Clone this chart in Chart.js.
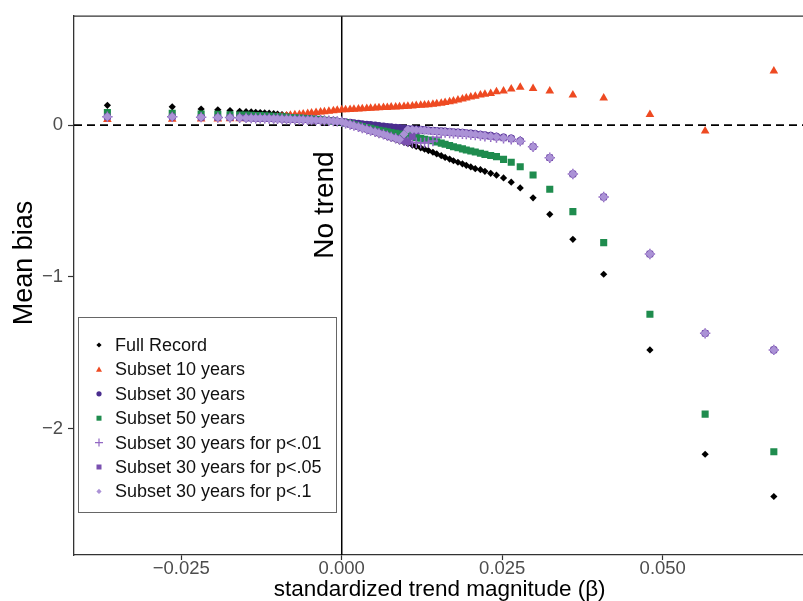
<!DOCTYPE html>
<html>
<head>
<meta charset="utf-8">
<title>Mean bias vs standardized trend magnitude</title>
<script src="https://cdn.jsdelivr.net/npm/chart.js@4.4.1/dist/chart.umd.min.js"></script>
<style>
  html, body { margin: 0; padding: 0; background: #fff; overflow: hidden; }
  #wrap { position: relative; width: 812px; height: 601px; }
</style>
</head>
<body>
<div id="wrap"><canvas id="biasChart"></canvas></div>
<script>
// x values (standardized trend magnitude) shared by all series
const betas = [
    -0.0365, -0.0264, -0.0219, -0.0193, -0.0174, -0.0159, -0.0149, -0.0141, -0.0134, -0.0127, -0.0120, -0.0113,
    -0.0106, -0.0100, -0.0093, -0.0086, -0.0080, -0.0073, -0.0066, -0.0060, -0.0053, -0.0047, -0.0040, -0.0033,
    -0.0027, -0.0020, -0.0013, -0.0007, 0.0000,
    0.0006, 0.0013, 0.0019, 0.0026, 0.0032, 0.0039, 0.0045, 0.0052, 0.0058, 0.0065, 0.0071, 0.0077, 0.0084,
    0.0090, 0.0097, 0.0103, 0.0110, 0.0116, 0.0123, 0.0129, 0.0135, 0.0142, 0.0148, 0.0155, 0.0161, 0.0168,
    0.0174, 0.0181, 0.0188, 0.0194, 0.0201, 0.0208, 0.0216, 0.0223, 0.0232, 0.0241, 0.0252, 0.0264, 0.0278,
    0.0298, 0.0324, 0.0360, 0.0408, 0.0480, 0.0566, 0.0673
];

const fullRecord = [
    0.13, 0.12, 0.105, 0.10, 0.095, 0.09, 0.088, 0.086, 0.084, 0.082, 0.08, 0.078,
    0.075, 0.072, 0.069, 0.066, 0.063, 0.06, 0.057, 0.054, 0.051, 0.048, 0.045, 0.042, 0.038, 0.034, 0.03, 0.025, 0.02,
    0.011, 0.002, -0.007, -0.016, -0.024, -0.033, -0.043, -0.051, -0.06, -0.069, -0.078, -0.087, -0.096,
    -0.105, -0.114, -0.123, -0.132, -0.141, -0.15, -0.159, -0.168, -0.179, -0.19, -0.202, -0.213, -0.224,
    -0.235, -0.245, -0.255, -0.265, -0.276, -0.287, -0.294, -0.305, -0.318, -0.33, -0.348, -0.376, -0.414,
    -0.479, -0.588, -0.752, -0.982, -1.48, -2.167, -2.445
];

const subset10 = [
    0.037, 0.038, 0.039, 0.04, 0.041, 0.042, 0.043, 0.044, 0.045, 0.046, 0.047, 0.048,
    0.05, 0.053, 0.056, 0.06, 0.064, 0.067, 0.07, 0.073, 0.076, 0.079, 0.082, 0.085, 0.088, 0.091, 0.094, 0.097, 0.1,
    0.101, 0.103, 0.104, 0.106, 0.107, 0.109, 0.11, 0.112, 0.113, 0.115, 0.116, 0.118, 0.119,
    0.121, 0.122, 0.124, 0.126, 0.128, 0.13, 0.132, 0.134, 0.137, 0.14, 0.144, 0.148, 0.153,
    0.158, 0.164, 0.171, 0.178, 0.184, 0.189, 0.197, 0.202, 0.208, 0.219, 0.224, 0.237, 0.248,
    0.241, 0.224, 0.197, 0.178, 0.07, -0.039, 0.355
];

const subset30 = [
    0.055, 0.054, 0.052, 0.05, 0.049, 0.048, 0.047, 0.046, 0.045, 0.045, 0.044, 0.043,
    0.042, 0.041, 0.04, 0.039, 0.038, 0.037, 0.036, 0.035, 0.034, 0.033, 0.032, 0.031, 0.03, 0.028, 0.026, 0.024, 0.022,
    0.019, 0.016, 0.013, 0.01, 0.007, 0.004, 0.001, -0.002, -0.005, -0.008, -0.011, -0.014, -0.016,
    -0.019, -0.022, -0.024, -0.026, -0.028, -0.03, -0.032, -0.034, -0.036, -0.038, -0.04, -0.042, -0.044,
    -0.046, -0.048, -0.05, -0.052, -0.055, -0.058, -0.062, -0.066, -0.07, -0.075, -0.081, -0.088, -0.103,
    -0.143, -0.215, -0.322, -0.474, -0.849, -1.371, -1.48
];

const subset50 = [
    0.083, 0.078, 0.072, 0.07, 0.068, 0.066, 0.065, 0.064, 0.063, 0.062, 0.061, 0.06,
    0.058, 0.056, 0.054, 0.052, 0.05, 0.048, 0.046, 0.044, 0.042, 0.04, 0.038, 0.035, 0.032, 0.029, 0.026, 0.023, 0.02,
    0.014, 0.008, 0.002, -0.004, -0.01, -0.016, -0.022, -0.028, -0.034, -0.039, -0.044, -0.05, -0.055,
    -0.06, -0.066, -0.071, -0.077, -0.082, -0.087, -0.093, -0.098, -0.104, -0.111, -0.119, -0.127, -0.135,
    -0.143, -0.149, -0.157, -0.164, -0.171, -0.178, -0.186, -0.193, -0.2, -0.208, -0.226, -0.245, -0.274,
    -0.329, -0.423, -0.57, -0.774, -1.245, -1.903, -2.151
];

const subset30p01 = [
    0.055, 0.054, 0.052, 0.05, 0.049, 0.048, 0.047, 0.046, 0.045, 0.045, 0.044, 0.043,
    0.042, 0.041, 0.04, 0.039, 0.038, 0.037, 0.036, 0.035, 0.034, 0.033, 0.032, 0.031, 0.03, 0.028, 0.026, 0.024, 0.022,
    0.012, 0.004, -0.004, -0.012, -0.02, -0.028, -0.037, -0.045, -0.053, -0.061, -0.07, -0.078, -0.087,
    -0.096, -0.104, -0.11, -0.114, -0.117, -0.118, -0.117, -0.114, -0.105, -0.08, -0.055, -0.05, -0.052,
    -0.054, -0.056, -0.058, -0.06, -0.063, -0.066, -0.07, -0.074, -0.078, -0.082, -0.088, -0.094, -0.106,
    -0.143, -0.215, -0.322, -0.474, -0.849, -1.371, -1.48
];

const subset30p05 = [
    0.055, 0.054, 0.052, 0.05, 0.049, 0.048, 0.047, 0.046, 0.045, 0.045, 0.044, 0.043,
    0.042, 0.041, 0.04, 0.039, 0.038, 0.037, 0.036, 0.035, 0.034, 0.033, 0.032, 0.031, 0.03, 0.028, 0.026, 0.024, 0.022,
    0.012, 0.004, -0.004, -0.012, -0.02, -0.028, -0.037, -0.045, -0.053, -0.061, -0.07, -0.078, -0.087,
    -0.096, -0.104, -0.112, -0.075, -0.04, -0.036, -0.038, -0.04, -0.042, -0.044, -0.046, -0.048, -0.05,
    -0.052, -0.054, -0.056, -0.058, -0.061, -0.064, -0.068, -0.072, -0.076, -0.08, -0.086, -0.092, -0.106,
    -0.143, -0.215, -0.322, -0.474, -0.849, -1.371, -1.48
];

const subset30p1 = [
    0.055, 0.054, 0.052, 0.05, 0.049, 0.048, 0.047, 0.046, 0.045, 0.045, 0.044, 0.043,
    0.042, 0.041, 0.04, 0.039, 0.038, 0.037, 0.036, 0.035, 0.034, 0.033, 0.032, 0.031, 0.03, 0.028, 0.026, 0.024, 0.022,
    0.012, 0.004, -0.004, -0.012, -0.02, -0.028, -0.037, -0.045, -0.053, -0.061, -0.07, -0.078, -0.087,
    -0.096, -0.06, -0.028, -0.03, -0.032, -0.034, -0.036, -0.038, -0.04, -0.042, -0.044, -0.046, -0.048,
    -0.05, -0.052, -0.054, -0.056, -0.059, -0.062, -0.066, -0.07, -0.074, -0.078, -0.084, -0.09, -0.106,
    -0.143, -0.215, -0.322, -0.474, -0.849, -1.371, -1.48
];

const seriesNames = [
    'Full Record', 'Subset 10 years', 'Subset 30 years', 'Subset 50 years',
    'Subset 30 years for p<.01', 'Subset 30 years for p<.05', 'Subset 30 years for p<.1'
];
const xTicks = [-0.025, 0, 0.025, 0.05];
const yTicks = [-2, -1, 0];

// marker look per series (same order as seriesNames)
const markers = [
    { color: '#000000', style: 'rectRot', radius: 3.6 },
    { color: '#ee4a22', style: 'triangle', radius: 5 },
    { color: '#4a2d8e', style: 'circle', radius: 3.8 },
    { color: '#1f8c4e', style: 'rect', radius: 5 },
    { color: '#9268c3', style: 'cross', radius: 5.2 },
    { color: '#7a50b0', style: 'rect', radius: 4.6 },
    { color: '#ab92d6', style: 'rectRot', radius: 4.4 }
];
const allValues = [fullRecord, subset10, subset30, subset50, subset30p01, subset30p05, subset30p1];

const FONT = '"Liberation Sans", Arial, Helvetica, sans-serif';

const datasets = allValues.map((vals, i) => ({
    label: seriesNames[i],
    data: betas.map((b, j) => ({ x: b, y: vals[j] })),
    pointStyle: markers[i].style,
    pointRadius: markers[i].radius,
    backgroundColor: markers[i].color,
    borderColor: markers[i].color,
    borderWidth: markers[i].style === 'cross' ? 1.5 : 0,
    order: allValues.length - 1 - i
}));

const minusSign = v => (v < 0 ? '\u2212' : '');

// zero lines and top frame
const refLines = {
    id: 'refLines',
    beforeDatasetsDraw(chart) {
        const { ctx, chartArea: a, scales: { x, y } } = chart;
        ctx.save();
        const y0 = y.getPixelForValue(0);
        ctx.strokeStyle = '#000';
        ctx.lineWidth = 1.7;
        ctx.setLineDash([8, 5]);
        ctx.beginPath();
        ctx.moveTo(a.left, y0);
        ctx.lineTo(a.right, y0);
        ctx.stroke();
        ctx.setLineDash([]);
        const x0 = x.getPixelForValue(0);
        ctx.lineWidth = 1.5;
        ctx.beginPath();
        ctx.moveTo(x0, a.top);
        ctx.lineTo(x0, a.bottom);
        ctx.stroke();
        ctx.strokeStyle = '#333';
        ctx.lineWidth = 1.3;
        ctx.beginPath();
        ctx.moveTo(a.left, a.top);
        ctx.lineTo(a.right, a.top);
        ctx.stroke();
        ctx.restore();
    }
};

function drawMarker(ctx, style, color, x, y, r) {
    ctx.fillStyle = color;
    ctx.strokeStyle = color;
    ctx.beginPath();
    if (style === 'circle') {
        ctx.arc(x, y, r, 0, Math.PI * 2);
        ctx.fill();
    } else if (style === 'rect') {
        ctx.fillRect(x - r, y - r, 2 * r, 2 * r);
    } else if (style === 'rectRot') {
        ctx.moveTo(x, y - r); ctx.lineTo(x + r, y); ctx.lineTo(x, y + r); ctx.lineTo(x - r, y);
        ctx.closePath();
        ctx.fill();
    } else if (style === 'triangle') {
        ctx.moveTo(x, y - r); ctx.lineTo(x + r, y + r * 0.8); ctx.lineTo(x - r, y + r * 0.8);
        ctx.closePath();
        ctx.fill();
    } else if (style === 'cross') {
        ctx.lineWidth = 1.2;
        ctx.moveTo(x - r, y); ctx.lineTo(x + r, y);
        ctx.moveTo(x, y - r); ctx.lineTo(x, y + r);
        ctx.stroke();
    }
}

// boxed legend, labels and the "No trend" note
const annotations = {
    id: 'annotations',
    afterDraw(chart) {
        const { ctx, scales: { x } } = chart;
        ctx.save();

        // legend
        const bx = 78, by = 317, bw = 258, bh = 195;
        ctx.fillStyle = '#fff';
        ctx.fillRect(bx, by, bw, bh);
        ctx.strokeStyle = '#666';
        ctx.lineWidth = 1;
        ctx.strokeRect(bx + 0.5, by + 0.5, bw, bh);
        const sizes = [2.6, 3, 2.6, 2.5, 4, 2.5, 2.6];
        seriesNames.forEach((name, i) => {
            const ry = 345 + i * 24.4;
            drawMarker(ctx, markers[i].style, markers[i].color, 99, ry, sizes[i]);
            ctx.fillStyle = '#111';
            ctx.font = '18px ' + FONT;
            ctx.textAlign = 'left';
            ctx.textBaseline = 'middle';
            ctx.fillText(name, 115, ry + 1);
        });

        // "No trend" beside the zero line
        const x0 = x.getPixelForValue(0);
        ctx.fillStyle = '#000';
        ctx.font = '28px ' + FONT;
        ctx.textAlign = 'center';
        ctx.textBaseline = 'middle';
        ctx.translate(x0 - 16, 205);
        ctx.rotate(-Math.PI / 2);
        ctx.fillText('No trend', 0, 0);
        ctx.restore();

        // y axis title
        ctx.save();
        ctx.fillStyle = '#000';
        ctx.font = '27px ' + FONT;
        ctx.textAlign = 'center';
        ctx.textBaseline = 'middle';
        ctx.translate(25, 263);
        ctx.rotate(-Math.PI / 2);
        ctx.fillText('Mean bias', 0, 0);
        ctx.restore();
    }
};

new Chart(document.getElementById('biasChart'), {
    type: 'scatter',
    data: { datasets },
    options: {
        responsive: true,
        maintainAspectRatio: false,
        animation: false,
        events: [],
        layout: { padding: { left: 0, top: 16, right: 0, bottom: 0 } },
        plugins: { legend: { display: false }, tooltip: { enabled: false } },
        scales: {
            x: {
                type: 'linear',
                min: -0.0417,
                max: 0.0722,
                afterBuildTicks: s => { s.ticks = xTicks.map(v => ({ value: v })); },
                afterFit: s => { s.height = 46; },
                grid: { drawOnChartArea: false, drawTicks: true, tickLength: 5, tickColor: '#333', tickWidth: 1.2 },
                border: { display: true, color: '#333', width: 1.3 },
                ticks: {
                    color: '#4d4d4d',
                    font: { family: FONT, size: 18.5 },
                    padding: -2,
                    maxRotation: 0,
                    callback: v => minusSign(v) + Math.abs(v).toFixed(3)
                },
                title: {
                    display: true,
                    text: 'standardized trend magnitude (\u03b2)',
                    color: '#000',
                    font: { family: FONT, size: 22.5, lineHeight: 1 },
                    padding: 0
                }
            },
            y: {
                type: 'linear',
                min: -2.83,
                max: 0.717,
                afterBuildTicks: s => { s.ticks = yTicks.map(v => ({ value: v })); },
                afterFit: s => { s.width = 74; },
                grid: { drawOnChartArea: false, drawTicks: true, tickLength: 6, tickColor: '#333', tickWidth: 1.2 },
                border: { display: true, color: '#333', width: 1.3 },
                ticks: {
                    color: '#4d4d4d',
                    font: { family: FONT, size: 18.5 },
                    padding: 5,
                    callback: v => minusSign(v) + Math.abs(v)
                }
            }
        }
    },
    plugins: [refLines, annotations]
});
</script>
</body>
</html>
